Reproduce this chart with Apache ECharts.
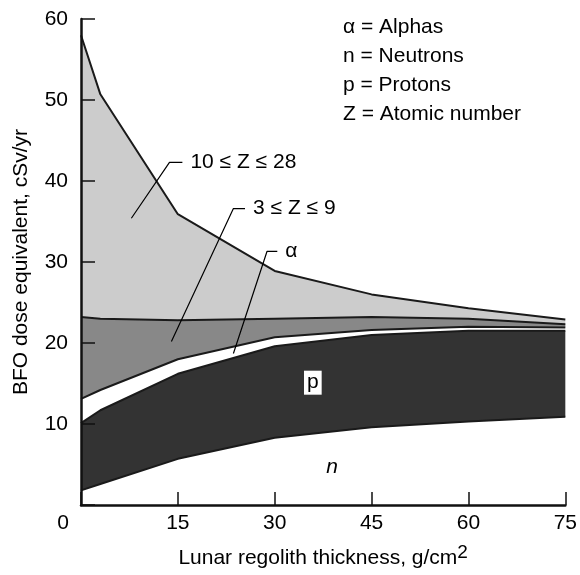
<!DOCTYPE html>
<html>
<head>
<meta charset="utf-8">
<script src="https://cdn.jsdelivr.net/npm/echarts@6/dist/echarts.min.js"></script>
<style>html,body{margin:0;padding:0;background:#fff}#c{width:580px;height:575px}</style>
</head>
<body>
<div id="c"></div>
<script>
// Regolith thickness (g/cm^2)
const thickness = [0, 3, 15, 30, 45, 60, 75];
// Cumulative dose boundaries (cSv/yr), bottom to top
const neutronsTop = [1.8, 2.6, 5.7, 8.3, 9.6, 10.3, 10.9];
const protonsTop  = [10.1, 11.7, 16.2, 19.6, 21.0, 21.5, 21.5];
const alphasTop   = [13.1, 14.2, 18.0, 20.7, 21.6, 22.0, 21.9];
const z3to9Top    = [23.2, 23.0, 22.8, 23.0, 23.2, 23.0, 22.3];
const z10to28Top  = [58.0, 50.7, 35.9, 28.9, 26.0, 24.3, 22.9];
// axis ticks
const xTicks = [0, 15, 30, 45, 60, 75];
const yTicks = [0, 10, 20, 30, 40, 50, 60];
// annotation leader lines (data coords) and their labels
const leader10to28 = [[7.8, 35.4], [13.7, 42.3], [15.7, 42.3]];
const leader3to9   = [[14.0, 20.2], [23.6, 36.6], [25.4, 36.6]];
const leaderAlpha  = [[23.6, 18.7], [28.8, 31.3], [30.4, 31.3]];
const labelP = [35.9, 15.1];
const labelN = [38.9, 4.7];
const keyLines = ['α = Alphas', 'n = Neutrons', 'p = Protons', 'Z = Atomic number'];

const FONT = "'Liberation Sans', Arial, Helvetica, sans-serif";
const FS = 21;
const chart = echarts.init(document.getElementById('c'), null, {renderer: 'canvas'});

// filled bands between two boundaries, drawn as polygons through the axes' scales
function bandFill(name, lower, upper, fill, z) {
  return {
    name, type: 'custom', z, silent: true, clip: true,
    data: [[thickness[0], lower[0]]],
    renderItem: (params, api) => {
      const pts = thickness.map((x, i) => api.coord([x, upper[i]]));
      for (let i = thickness.length - 1; i >= 0; i--) pts.push(api.coord([thickness[i], lower[i]]));
      return {type: 'polygon', shape: {points: pts}, style: {fill, stroke: null}};
    }
  };
}
function boundary(name, vals) {
  return {
    name, type: 'line', data: thickness.map((x, i) => [x, vals[i]]),
    symbol: 'none', z: 10, silent: true, animation: false,
    lineStyle: {color: '#1a1a1a', width: 2}
  };
}
function leader(name, pts, text) {
  return {
    name, type: 'line', data: pts, symbol: 'none', z: 20,
    lineStyle: {color: '#000', width: 1.2},
    endLabel: {show: true, formatter: text, distance: 8, color: '#000',
      fontSize: FS, fontFamily: FONT},
    silent: true, animation: false
  };
}

const option = {
  backgroundColor: '#fff',
  animation: false,
  grid: {left: 81, right: 13, top: 19, bottom: 70, containLabel: false},
  xAxis: {
    type: 'value', min: 0, max: 75, interval: 15, z: 30,
    name: 'Lunar regolith thickness, g/cm{sup|2}',
    nameLocation: 'middle', nameGap: 38,
    nameTextStyle: {color: '#000', fontSize: FS, fontFamily: FONT,
      rich: {sup: {fontSize: 19, fontFamily: FONT, color: '#000', padding: [0, 0, 12, 0]}}},
    axisLine: {lineStyle: {color: '#111', width: 2.5}},
    axisTick: {inside: true, length: 13, lineStyle: {color: '#111', width: 1.5}},
    axisLabel: {color: '#000', fontSize: FS, fontFamily: FONT, margin: 8,
      formatter: v => xTicks.includes(v) ? (v === 0 ? '{z|0}' : String(v)) : '',
      rich: {z: {fontSize: FS, fontFamily: FONT, color: '#000', padding: [0, 36, 0, 0]}}},
    splitLine: {show: false}
  },
  yAxis: {
    type: 'value', min: 0, max: 60, interval: 10, z: 30,
    name: 'BFO dose equivalent, cSv/yr',
    nameLocation: 'middle', nameGap: 49,
    nameTextStyle: {color: '#000', fontSize: FS, fontFamily: FONT},
    axisLine: {show: true, lineStyle: {color: '#111', width: 2.5}},
    axisTick: {show: true, inside: true, length: 14, lineStyle: {color: '#111', width: 1.5}},
    axisLabel: {color: '#000', fontSize: FS, fontFamily: FONT, margin: 13,
      formatter: v => (v === 0 || !yTicks.includes(v)) ? '' : String(v)},
    splitLine: {show: false}
  },
  series: [
    bandFill('p', neutronsTop, protonsTop, '#333333', 2),
    bandFill('3 ≤ Z ≤ 9', alphasTop, z3to9Top, '#888888', 2),
    bandFill('10 ≤ Z ≤ 28', z3to9Top, z10to28Top, '#cccccc', 2),
    boundary('n top', neutronsTop),
    boundary('p top', protonsTop),
    boundary('α top', alphasTop),
    boundary('3-9 top', z3to9Top),
    boundary('10-28 top', z10to28Top),
    leader('L1', leader10to28, '10 ≤ Z ≤ 28'),
    leader('L2', leader3to9, '3 ≤ Z ≤ 9'),
    leader('L3', leaderAlpha, 'α'),
    {
      type: 'scatter', z: 21, symbolSize: 1, silent: true,
      itemStyle: {color: '#fff', opacity: 1},
      data: [labelP],
      label: {show: true, position: 'inside', formatter: 'p', color: '#000', opacity: 1,
        backgroundColor: '#ffffff', padding: [1, 3, 2, 3], fontSize: FS, fontFamily: FONT}
    },
    {
      type: 'scatter', z: 21, symbolSize: 1, silent: true,
      itemStyle: {color: '#fff', opacity: 1},
      data: [labelN],
      label: {show: true, position: 'inside', formatter: 'n', color: '#000', opacity: 1,
        fontStyle: 'italic', fontSize: FS, fontFamily: FONT}
    }
  ],
  graphic: keyLines.map((t, i) => ({
    type: 'text', left: 343, top: 17 + i * 29,
    style: {text: t, fill: '#000', fontSize: FS, fontFamily: FONT}
  }))
};
chart.setOption(option);
</script>
</body>
</html>
